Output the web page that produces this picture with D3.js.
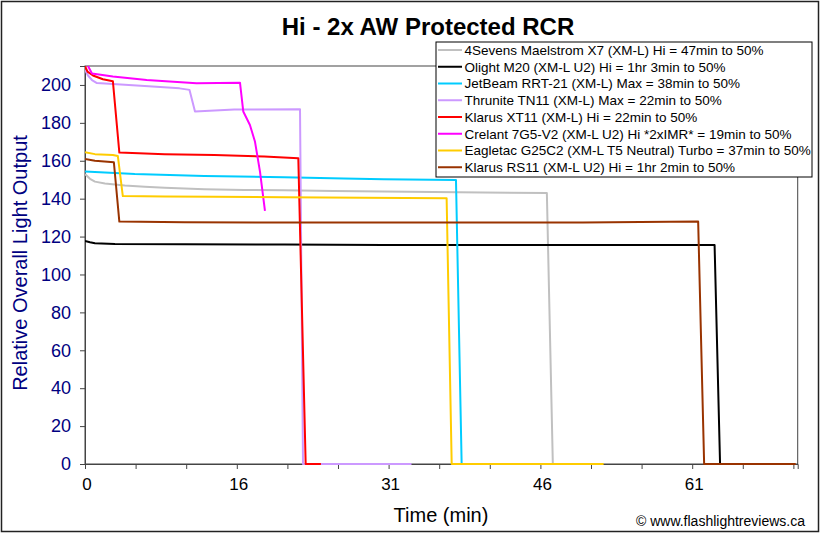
<!DOCTYPE html>
<html>
<head>
<meta charset="utf-8">
<script src="https://cdn.jsdelivr.net/npm/d3@7"></script>
<style>
  html, body { margin: 0; padding: 0; background: #fff; }
  svg { display: block; font-family: "Liberation Sans", Arial, sans-serif; }
</style>
</head>
<body>
<svg id="chart" width="822" height="535"></svg>
<script>
// ---------------- data ----------------
const chartTitle = "Hi - 2x AW Protected RCR";
const xTitle = "Time (min)";
const yTitle = "Relative Overall Light Output";
const credit = "\u00A9 www.flashlightreviews.ca";

const seriesNames = [
  "4Sevens Maelstrom X7 (XM-L) Hi = 47min to 50%",
  "Olight M20 (XM-L U2) Hi = 1hr 3min to 50%",
  "JetBeam RRT-21 (XM-L) Max = 38min to 50%",
  "Thrunite TN11 (XM-L) Max = 22min to 50%",
  "Klarus XT11 (XM-L) Hi = 22min to 50%",
  "Crelant 7G5-V2 (XM-L U2) Hi *2xIMR* = 19min to 50%",
  "Eagletac G25C2 (XM-L T5 Neutral) Turbo = 37min to 50%",
  "Klarus RS11 (XM-L U2) Hi = 1hr 2min to 50%"
];
const seriesColors = ["#c0c0c0", "#000000", "#00ccff", "#cc99ff", "#ff0000", "#ff00ff", "#ffcc00", "#993300"];

// time (min) and relative output for each light
const t4Sevens = [0, 0.5, 1, 2, 3, 4, 6, 8, 12, 16, 20, 25, 30, 35, 40, 46.4, 47.0, 52];
const v4Sevens = [153, 150.5, 149, 148, 147.5, 147, 146.3, 145.8, 145, 144.6, 144.4, 144, 143.8, 143.5, 143.2, 143, 0, 0];

const tOlight = [0, 0.5, 1, 3, 10, 20, 30, 40, 50, 63.25, 63.8, 70];
const vOlight = [117.7, 117, 116.5, 116.1, 116, 115.8, 115.6, 115.6, 115.6, 115.6, 0, 0];

const tJetBeam = [0, 5, 12, 20, 26, 30, 37.27, 37.84, 50];
const vJetBeam = [154.3, 153, 152, 151.3, 150.6, 150.3, 149.8, 0, 0];

const tThrunite = [0, 0.3, 0.7, 1.2, 2.8, 6, 9.5, 10.5, 11.05, 15, 21.6, 21.9, 32.8];
const vThrunite = [208, 205, 202.6, 201, 200.5, 199.5, 198.2, 197.4, 186, 187, 187.2, 0, 0];

const tKlarusXT = [0, 0.25, 0.8, 1.8, 2.8, 3.45, 8, 13, 18, 21.43, 22.17, 23.7];
const vKlarusXT = [210, 207, 205, 203, 202, 164.3, 163.5, 163, 162.3, 161.3, 0, 0];

const tCrelant = [0, 0.7, 2.8, 6.2, 11.2, 15.57, 15.9, 16.57, 17.08, 17.58, 18.08];
const vCrelant = [213, 206, 204.4, 202.6, 200.9, 201.2, 186, 178.9, 170, 154.3, 133.5];

const tEagletac = [0, 1, 2.8, 3.3, 3.8, 8, 13, 20, 28, 36.33, 36.84, 52.1];
const vEagletac = [164.5, 163.5, 163, 162.5, 141.4, 141.2, 141, 140.8, 140.5, 140.2, 0, 0];

const tKlarusRS = [0, 1, 2.9, 3.45, 10, 20, 30, 40, 50, 61.6, 62.2, 71.4];
const vKlarusRS = [161, 160, 159.2, 127.9, 127.6, 127.4, 127.4, 127.4, 127.4, 127.9, 0, 0];

const seriesTimes = [t4Sevens, tOlight, tJetBeam, tThrunite, tKlarusXT, tCrelant, tEagletac, tKlarusRS];
const seriesValues = [v4Sevens, vOlight, vJetBeam, vThrunite, vKlarusXT, vCrelant, vEagletac, vKlarusRS];

const yTicks = [0, 20, 40, 60, 80, 100, 120, 140, 160, 180, 200];
const xTickStep = 61 / 12;              // minutes between tick marks
const xTickCount = 15;
const xTickLabels = ["0", "16", "31", "46", "61"]; // every third tick

// ---------------- layout ----------------
const svg = d3.select("#chart");
const W = 822, H = 535;
const plot = { left: 85, top: 66, right: 797.7, bottom: 464 };

const x = d3.scaleLinear().domain([0, 71.6]).range([plot.left, plot.right]);
const y = d3.scaleLinear().domain([0, 210]).range([plot.bottom, plot.top]);

svg.append("rect").attr("x", 0).attr("y", 0).attr("width", W).attr("height", H).attr("fill", "#fff");
// outer border
svg.append("rect").attr("x", 1.5).attr("y", 1.5).attr("width", 817).attr("height", 530)
  .attr("fill", "none").attr("stroke", "#222").attr("stroke-width", 1.5);

// plot frame
svg.append("rect").attr("x", plot.left).attr("y", plot.top)
  .attr("width", plot.right - plot.left).attr("height", plot.bottom - plot.top)
  .attr("fill", "#fff").attr("stroke", "#444").attr("stroke-width", 1);

// clip
svg.append("clipPath").attr("id", "clip").append("rect")
  .attr("x", plot.left).attr("y", plot.top)
  .attr("width", plot.right - plot.left).attr("height", plot.bottom - plot.top + 1);

// y axis
const yAxis = d3.axisLeft(y).tickValues(yTicks).tickSize(5).tickPadding(9).tickFormat(d3.format("d"));
const gy = svg.append("g").attr("transform", `translate(${plot.left},0)`).call(yAxis);
gy.select(".domain").attr("stroke", "#444");
gy.selectAll(".tick line").attr("stroke", "#444");
gy.selectAll(".tick text").attr("fill", "#000080").attr("font-size", 18)
  .attr("font-family", "'Liberation Sans', Arial, sans-serif");

// x axis
const xTickVals = d3.range(xTickCount).map(i => i * xTickStep);
const xAxis = d3.axisBottom(x).tickValues(xTickVals).tickSize(5).tickPadding(9)
  .tickFormat((d, i) => (i % 3 === 0 ? xTickLabels[i / 3] : ""));
const gx = svg.append("g").attr("transform", `translate(0,${plot.bottom})`).call(xAxis);
gx.select(".domain").attr("stroke", "#444");
gx.selectAll(".tick line").attr("stroke", "#444");
gx.selectAll(".tick text").attr("fill", "#000").attr("font-size", 17).attr("dx", 1.5)
  .attr("font-family", "'Liberation Sans', Arial, sans-serif");

// lines
const line = d3.line().x(d => x(d[0])).y(d => y(d[1]));
const gl = svg.append("g").attr("clip-path", "url(#clip)");
seriesNames.forEach((name, i) => {
  const pts = seriesTimes[i].map((t, j) => [t, seriesValues[i][j]]);
  gl.append("path").datum(pts).attr("d", line)
    .attr("fill", "none").attr("stroke", seriesColors[i]).attr("stroke-width", 2)
    .attr("stroke-linejoin", "round");
});

// titles
svg.append("text").attr("x", 428).attr("y", 35).attr("text-anchor", "middle")
  .attr("font-size", 24).attr("font-weight", "bold").attr("fill", "#000").text(chartTitle);
svg.append("text").attr("x", 441).attr("y", 522).attr("text-anchor", "middle")
  .attr("font-size", 20).attr("fill", "#000").text(xTitle);
svg.append("text").attr("transform", "translate(27,263) rotate(-90)").attr("text-anchor", "middle")
  .attr("font-size", 20).attr("fill", "#000080").text(yTitle);
svg.append("text").attr("x", 805).attr("y", 526).attr("text-anchor", "end")
  .attr("font-size", 14).attr("fill", "#000").text(credit);

// legend
const leg = { x: 436, y: 42, w: 376, h: 135 };
svg.append("clipPath").attr("id", "legclip").append("rect")
  .attr("x", leg.x).attr("y", leg.y).attr("width", leg.w).attr("height", leg.h);
svg.append("rect").attr("x", leg.x).attr("y", leg.y).attr("width", leg.w).attr("height", leg.h)
  .attr("fill", "#fff").attr("stroke", "#000").attr("stroke-width", 1);
const lg = svg.append("g").attr("clip-path", "url(#legclip)");
seriesNames.forEach((name, i) => {
  const cy = 50 + i * 16.75;
  lg.append("line").attr("x1", 438).attr("x2", 462).attr("y1", cy).attr("y2", cy)
    .attr("stroke", seriesColors[i]).attr("stroke-width", 2);
  lg.append("text").attr("x", 464.5).attr("y", cy).attr("dy", "0.36em")
    .attr("font-size", 13.5).attr("fill", "#000").text(name);
});
</script>
</body>
</html>
